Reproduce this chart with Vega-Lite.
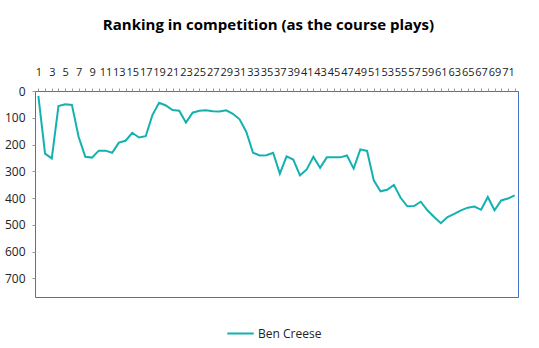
{
  "$schema": "https://vega.github.io/schema/vega-lite/v6.json",
  "width": 483,
  "height": 206,
  "autosize": "none",
  "padding": {"left": 35, "top": 91, "right": 21, "bottom": 51},
  "background": "white",
  "title": {
    "text": "Ranking in competition (as the course plays)",
    "font": "Open Sans",
    "fontSize": 15,
    "fontWeight": "bold",
    "color": "#000000",
    "anchor": "middle",
    "offset": 33,
    "dx": -8
  },
  "config": {
    "view": {"stroke": "#4472C4", "strokeWidth": 1},
    "axis": {"labelFont": "Open Sans", "labelColor": "#222222", "grid": false, "tickColor": "#9a9a9a", "tickSize": 3, "domain": false},
    "legend": {"labelFont": "Open Sans", "labelFontSize": 12, "labelColor": "#222222"}
  },
  "data": {
    "values": [
      {"hole": 1, "rank": 18}, {"hole": 2, "rank": 234}, {"hole": 3, "rank": 252}, {"hole": 4, "rank": 56},
      {"hole": 5, "rank": 50}, {"hole": 6, "rank": 52}, {"hole": 7, "rank": 171}, {"hole": 8, "rank": 246},
      {"hole": 9, "rank": 249}, {"hole": 10, "rank": 223}, {"hole": 11, "rank": 223}, {"hole": 12, "rank": 231},
      {"hole": 13, "rank": 193}, {"hole": 14, "rank": 186}, {"hole": 15, "rank": 156}, {"hole": 16, "rank": 174},
      {"hole": 17, "rank": 169}, {"hole": 18, "rank": 90}, {"hole": 19, "rank": 44}, {"hole": 20, "rank": 54},
      {"hole": 21, "rank": 71}, {"hole": 22, "rank": 74}, {"hole": 23, "rank": 118}, {"hole": 24, "rank": 81},
      {"hole": 25, "rank": 74}, {"hole": 26, "rank": 72}, {"hole": 27, "rank": 76}, {"hole": 28, "rank": 77},
      {"hole": 29, "rank": 72}, {"hole": 30, "rank": 85}, {"hole": 31, "rank": 106}, {"hole": 32, "rank": 153},
      {"hole": 33, "rank": 231}, {"hole": 34, "rank": 241}, {"hole": 35, "rank": 240}, {"hole": 36, "rank": 231},
      {"hole": 37, "rank": 309}, {"hole": 38, "rank": 244}, {"hole": 39, "rank": 256}, {"hole": 40, "rank": 315},
      {"hole": 41, "rank": 293}, {"hole": 42, "rank": 246}, {"hole": 43, "rank": 287}, {"hole": 44, "rank": 248},
      {"hole": 45, "rank": 248}, {"hole": 46, "rank": 248}, {"hole": 47, "rank": 241}, {"hole": 48, "rank": 290},
      {"hole": 49, "rank": 218}, {"hole": 50, "rank": 224}, {"hole": 51, "rank": 334}, {"hole": 52, "rank": 375},
      {"hole": 53, "rank": 369}, {"hole": 54, "rank": 351}, {"hole": 55, "rank": 399}, {"hole": 56, "rank": 431},
      {"hole": 57, "rank": 430}, {"hole": 58, "rank": 414}, {"hole": 59, "rank": 446}, {"hole": 60, "rank": 471},
      {"hole": 61, "rank": 494}, {"hole": 62, "rank": 471}, {"hole": 63, "rank": 459}, {"hole": 64, "rank": 446},
      {"hole": 65, "rank": 436}, {"hole": 66, "rank": 432}, {"hole": 67, "rank": 444}, {"hole": 68, "rank": 396},
      {"hole": 69, "rank": 446}, {"hole": 70, "rank": 409}, {"hole": 71, "rank": 402}, {"hole": 72, "rank": 390}
    ]
  },
  "transform": [{"calculate": "'Ben Creese'", "as": "player"}],
  "mark": {"type": "line", "strokeWidth": 2},
  "encoding": {
    "x": {
      "field": "hole",
      "type": "ordinal",
      "sort": "ascending",
      "scale": {"type": "point", "padding": 0.5},
      "axis": {
        "orient": "top",
        "title": null,
        "labelAngle": 0,
        "labelFontSize": 11,
        "labelOverlap": false,
        "labelPadding": 11,
        "labelExpr": "datum.value % 2 == 1 ? datum.label : ''"
      }
    },
    "y": {
      "field": "rank",
      "type": "quantitative",
      "scale": {"domain": [0, 770], "reverse": true, "nice": false, "zero": true},
      "axis": {
        "title": null,
        "values": [0, 100, 200, 300, 400, 500, 600, 700],
        "labelFontSize": 12,
        "labelPadding": 7,
        "tickSize": 3
      }
    },
    "color": {
      "field": "player",
      "type": "nominal",
      "scale": {"range": ["#13B1B0"]},
      "legend": {
        "title": null,
        "orient": "none",
        "legendX": 191,
        "legendY": 228,
        "symbolType": "stroke",
        "symbolSize": 700,
        "symbolStrokeWidth": 2,
        "labelOffset": 3
      }
    }
  }
}
